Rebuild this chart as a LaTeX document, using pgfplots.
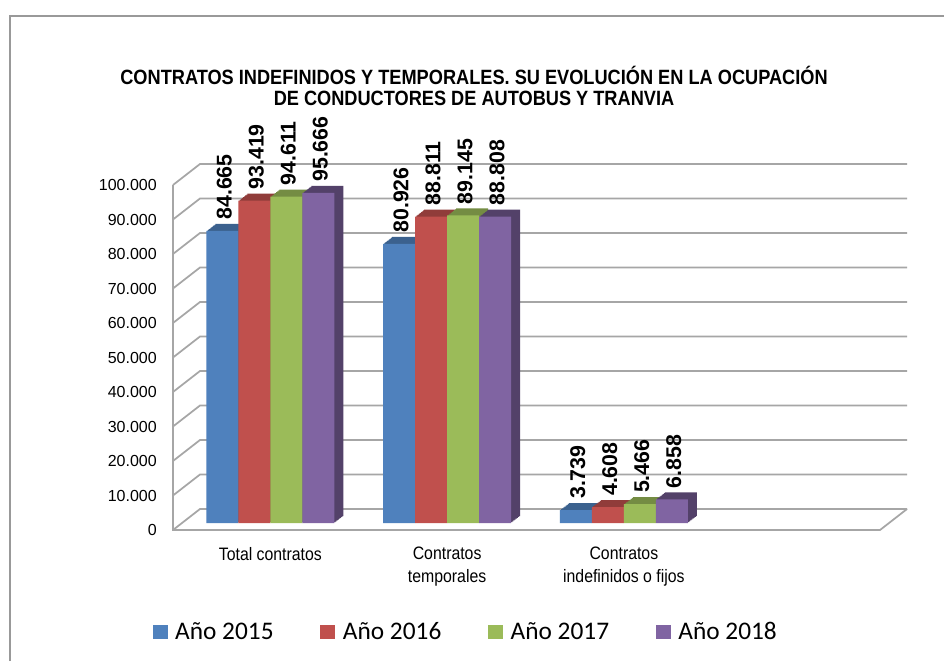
\documentclass[border=0pt]{standalone}
\usepackage{pgfplots}
\pgfplotsset{compat=1.18}
\usepackage{pgfplotstable}
\usepackage{fontspec}
\setmainfont{Liberation Sans}
\newfontfamily\narrowfont[FakeStretch=0.88]{Liberation Sans}
\newfontfamily\legendfont{Carlito}
\definecolor{cA}{HTML}{4F81BD}
\definecolor{cB}{HTML}{C0504D}
\definecolor{cC}{HTML}{9BBB59}
\definecolor{cD}{HTML}{8064A2}
\colorlet{tA}{cA!75!black}
\colorlet{tB}{cB!75!black}
\colorlet{tC}{cC!75!black}
\colorlet{tD}{cD!65!black}
\definecolor{gridc}{HTML}{A6A6A6}

\pgfplotstableread{
x a b c d la lb lc ld
0 84665 93419 94611 95666 84.665 93.419 94.611 95.666
1 80926 88811 89145 88808 80.926 88.811 89.145 88.808
2 3739 4608 5466 6858 3.739 4.608 5.466 6.858
}\datatab

\newcommand{\series}[6]{%
  \pgfplotsinvokeforeach{8,7,6,5,4,3,2,1}{%
    \addplot[ybar, bar width=24pt, bar shift=#4, fill=#3, draw=none, forget plot,
      xshift=##1*0.84375pt, yshift=##1*0.65625pt] table[x=x,y=#1]{\datatab};
  }
  \addplot[ybar, bar width=24pt, bar shift=#4, fill=#2, draw=none,
    point meta=explicit symbolic, nodes near coords,
    nodes near coords style={font=\bfseries\fontsize{16}{16}\selectfont, text=black, inner sep=0pt,
      xshift=#4, xshift=1.5pt, yshift=8.25pt, rotate=90, anchor=west}]
    table[x=x,y=#1,meta=#6]{\datatab};
  \addlegendentry{#5}
}

\begin{document}
\begin{tikzpicture}[x=1pt,y=1pt]
\fill[white] (0,0) rectangle (708,495.75);
\draw[color=gray!80, line width=1.5pt] (7.5,0) -- (7.5,483.75) -- (708,483.75);
\node[font=\narrowfont\bfseries\fontsize{15.5}{15.75}\selectfont, align=center] at (355.5,431) {CONTRATOS INDEFINIDOS Y TEMPORALES. SU EVOLUCIÓN EN LA OCUPACIÓN\\DE CONDUCTORES DE AUTOBUS Y TRANVIA};
\begin{axis}[
  at={(136.5pt,103.5pt)}, anchor=south west, scale only axis,
  width=530.25pt, height=258.75pt,
  xmin=-0.5, xmax=3.5, ymin=0, ymax=100000,
  clip=false,
  axis line style={draw=none}, tick style={draw=none},
  ytick={0,10000,20000,30000,40000,50000,60000,70000,80000,90000,100000},
  yticklabels={0,10.000,20.000,30.000,40.000,50.000,60.000,70.000,80.000,90.000,100.000},
  xtick={0,1,2},
  xticklabels={Total contratos,{Contratos\\temporales},{Contratos\\indefinidos o fijos}},
  xticklabel style={font=\narrowfont\fontsize{13.5}{17.25}\selectfont, align=center, anchor=north, inner sep=0pt, yshift=-18pt},
  yticklabel style={font=\fontsize{12}{12}\selectfont, anchor=east, inner sep=0pt, xshift=-18.75pt, yshift=-5.5pt},
  scaled y ticks=false,
  legend columns=4,
  legend style={at={(axis description cs:0.4017,-0.316)}, anchor=center, draw=none, fill=none,
    font=\legendfont\fontsize{19}{19}\selectfont,
    /tikz/every even column/.append style={column sep=33pt}},
  legend image code/.code={\fill[#1] (0pt,-5.6pt) rectangle (11.25pt,5.6pt); \path (15pt,0pt);},
]
\pgfplotsinvokeforeach{0,10000,20000,30000,40000,50000,60000,70000,80000,90000,100000}{
  \draw[gridc, line width=1.3pt] ([xshift=-6.75pt,yshift=-5.25pt]axis cs:-0.5,#1) -- ([xshift=13.5pt,yshift=10.5pt]axis cs:-0.5,#1) -- ([xshift=13.5pt,yshift=10.5pt]axis cs:3.5,#1);
}
\draw[gridc, line width=1.3pt] ([xshift=-6.75pt,yshift=-5.25pt]axis cs:-0.5,100000) -- ([xshift=-6.75pt,yshift=-5.25pt]axis cs:-0.5,0) -- ([xshift=-6.75pt,yshift=-5.25pt]axis cs:3.5,0) -- ([xshift=13.5pt,yshift=10.5pt]axis cs:3.5,0);
\series{a}{cA}{tA}{-36pt}{Año 2015}{la}
\series{b}{cB}{tB}{-12pt}{Año 2016}{lb}
\series{c}{cC}{tC}{12pt}{Año 2017}{lc}
\series{d}{cD}{tD}{36pt}{Año 2018}{ld}
\end{axis}
\pgfresetboundingbox
\useasboundingbox (0,0) rectangle (708,495.75);
\end{tikzpicture}
\end{document}
